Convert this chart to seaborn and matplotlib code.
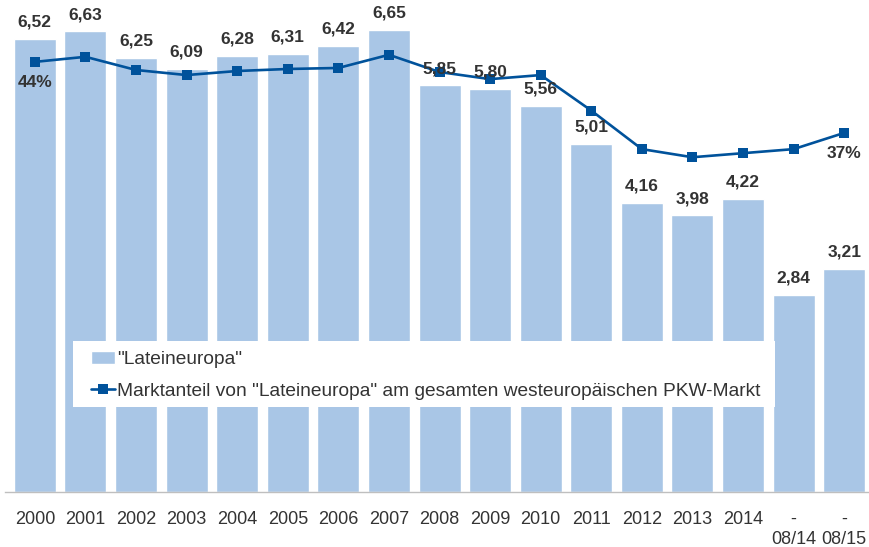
import matplotlib
matplotlib.use("Agg")
import matplotlib.pyplot as plt
from matplotlib.patches import Rectangle
import seaborn as sns
import numpy as np
import pandas as pd

# data
categories = ["2000", "2001", "2002", "2003", "2004", "2005", "2006", "2007",
              "2008", "2009", "2010", "2011", "2012", "2013", "2014",
              "-\n08/14", "-\n08/15"]
volumes = [6.52, 6.63, 6.25, 6.09, 6.28, 6.31, 6.42, 6.65,
           5.85, 5.80, 5.56, 5.01, 4.16, 3.98, 4.22, 2.84, 3.21]
market_share = [44.0, 44.5, 43.2, 42.7, 43.1, 43.3, 43.4, 44.7,
                43.0, 42.3, 42.7, 39.2, 35.4, 34.6, 35.0, 35.4, 37.0]
share_labels = {0: "44%", 16: "37%"}

bar_label = '"Lateineuropa"'
line_label = 'Marktanteil von "Lateineuropa" am gesamten westeuropäischen PKW-Markt'

bar_color = "#a9c6e6"
line_color = "#00529b"
text_color = "#333333"

sns.set_theme(style="white")
plt.rcParams["font.family"] = ["Liberation Sans", "DejaVu Sans"]

fig = plt.figure(figsize=(8.7, 5.47), dpi=100)
ax = fig.add_axes([5 / 870, 55 / 547, 865 / 870, 492 / 547])

df = pd.DataFrame({"Kategorie": categories, "Wert": volumes})
sns.barplot(data=df, x="Kategorie", y="Wert", color=bar_color, saturation=1,
            width=0.83, ax=ax, label=bar_label)
if ax.get_legend() is not None:
    ax.get_legend().remove()
ax.set_ylim(0, 7.08)
ax.set_xlim(-0.59, 16.51)
ax.set_xlabel("")
ax.set_ylabel("")
ax.set_yticks([])
for s in ["top", "left", "right"]:
    ax.spines[s].set_visible(False)
ax.spines["bottom"].set_color("#bfbfbf")
ax.spines["bottom"].set_linewidth(1)
ax.tick_params(axis="x", length=0, pad=13.5, labelsize=13, colors=text_color)
for t in ax.get_xticklabels():
    t.set_linespacing(1.25)
    t.set_verticalalignment("top")

ax2 = ax.twinx()
share_df = pd.DataFrame({"pos": np.arange(len(categories)), "Anteil": market_share})
sns.lineplot(data=share_df, x="pos", y="Anteil", sort=False, color=line_color,
             linewidth=1.9, marker="s", markersize=6.5, markeredgewidth=0,
             ax=ax2, label=line_label, legend=False)
ax2.set_ylim(1.6, 50.1)
ax2.set_yticks([])
ax2.set_ylabel("")
ax2.set_xlim(-0.59, 16.51)
for s in ["top", "left", "right", "bottom"]:
    ax2.spines[s].set_visible(False)

# value labels above bars (on top of the line)
for i, v in enumerate(volumes):
    ax2.annotate(f"{v:.2f}".replace(".", ","), xy=(i, v), xycoords=ax.transData,
                 xytext=(0, 6.5), textcoords="offset points", ha="center",
                 va="bottom", fontsize=12.5, fontweight="bold", color=text_color)

for i, lab in share_labels.items():
    ax2.annotate(lab, xy=(i, market_share[i]), xytext=(0, -14.5),
                 textcoords="offset points", ha="center", va="center",
                 fontsize=12.5, fontweight="bold", color=text_color)

# legend box
fig.patches.append(Rectangle((73 / 870, 1 - 407 / 547), (775 - 73) / 870, 66 / 547,
                             transform=fig.transFigure, facecolor="white",
                             edgecolor="none", zorder=1))
h1, l1 = ax.get_legend_handles_labels()
h2, l2 = ax2.get_legend_handles_labels()
fig.legend(h1 + h2, l1 + l2, loc="upper left", bbox_to_anchor=(91 / 870, 1 - 351 / 547),
           frameon=False, fontsize=13.8, handlelength=1.26, handletextpad=0.1,
           labelspacing=0.74, borderpad=0, borderaxespad=0, labelcolor=text_color)

fig.savefig("out.png", dpi=100)
